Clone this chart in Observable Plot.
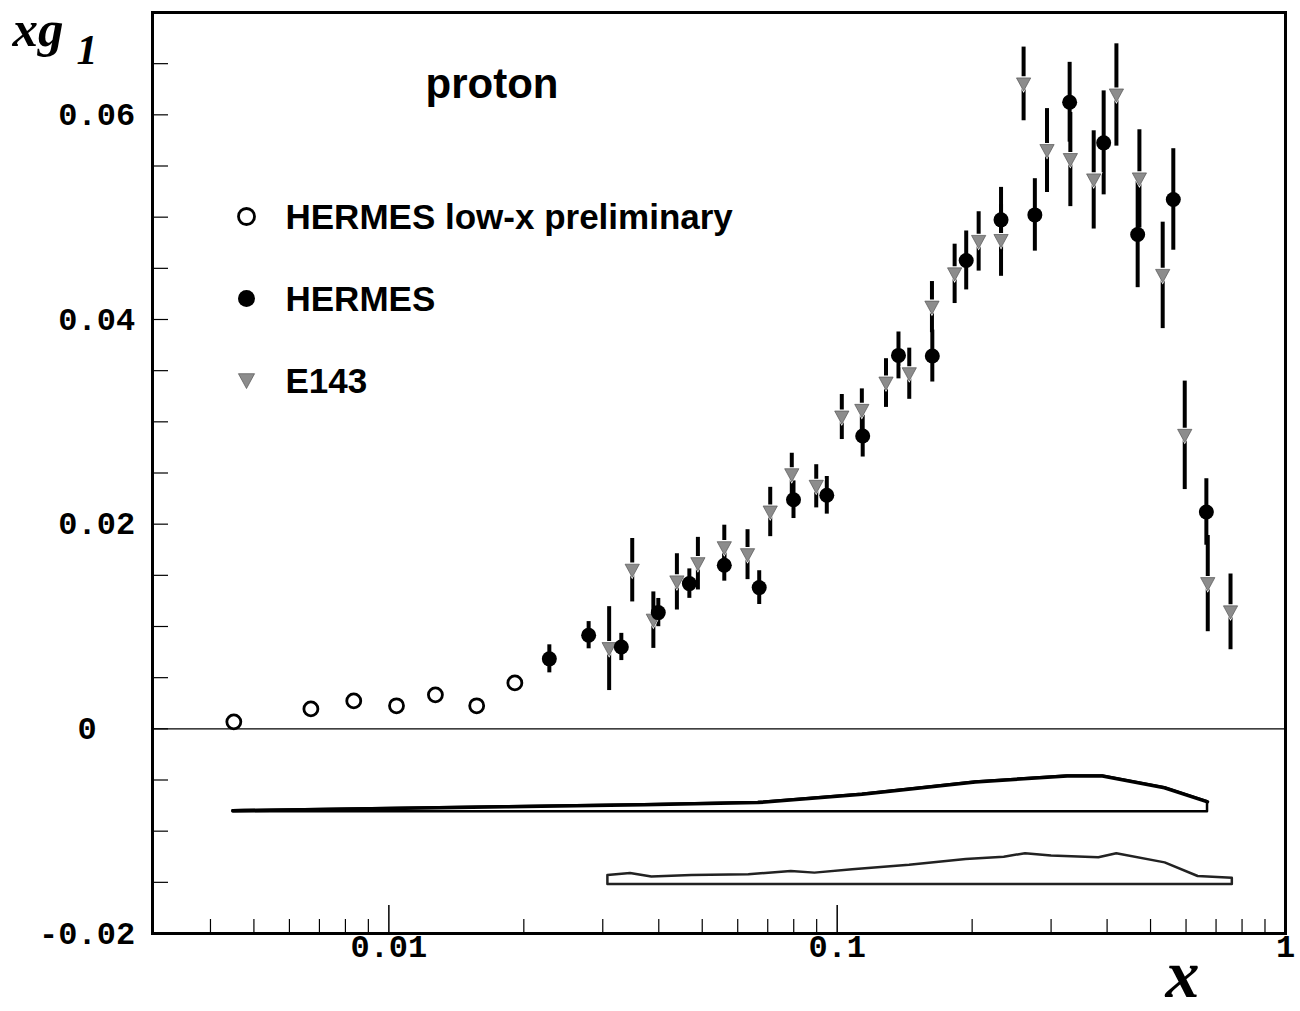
<!DOCTYPE html>
<html><head><meta charset="utf-8">
<script src="https://cdn.jsdelivr.net/npm/d3@7"></script>
<script src="https://cdn.jsdelivr.net/npm/@observablehq/plot@0.6"></script>
<style>body{margin:0;background:#fff}</style>
</head><body><div id="chart"></div>
<script>
// HERMES low-x preliminary (open circles)
const lowX   = [0.00451, 0.0067, 0.00835, 0.0104, 0.0127, 0.0157, 0.0191];
const lowXg1 = [0.00068, 0.00195, 0.00273, 0.00225, 0.00332, 0.00225, 0.00449];

// HERMES (filled circles)
const hermesX   = [0.0228, 0.0279, 0.0330, 0.0399, 0.0468, 0.0560, 0.0670, 0.0799, 0.0948, 0.114, 0.137, 0.163, 0.194, 0.232, 0.276, 0.330, 0.393, 0.468, 0.562, 0.666];
const hermesXg1 = [0.00684, 0.00915, 0.0080, 0.01136, 0.01419, 0.01599, 0.0138, 0.02239, 0.02282, 0.02861, 0.03649, 0.03643, 0.04577, 0.04974, 0.05022, 0.06123, 0.05726, 0.04831, 0.05173, 0.02119];
const hermesErr = [0.00137, 0.00133, 0.00133, 0.00138, 0.00144, 0.00156, 0.00165, 0.00184, 0.00184, 0.00205, 0.00229, 0.00254, 0.00288, 0.00317, 0.00354, 0.0039, 0.00508, 0.0052, 0.00496, 0.00325];

// E143 (grey down-triangles)
const e143X   = [0.0310, 0.0349, 0.0389, 0.0439, 0.0489, 0.0560, 0.0631, 0.0709, 0.0792, 0.0898, 0.1024, 0.1135, 0.1285, 0.1448, 0.1627, 0.1828, 0.2068, 0.232, 0.2605, 0.2938, 0.3312, 0.3734, 0.4196, 0.4722, 0.5322, 0.596, 0.6708, 0.754];
const e143Xg1 = [0.00784, 0.0155, 0.01062, 0.01436, 0.01614, 0.0177, 0.01702, 0.02119, 0.02483, 0.0237, 0.03047, 0.03112, 0.03379, 0.0347, 0.04121, 0.04446, 0.04763, 0.04772, 0.06302, 0.05651, 0.05563, 0.05364, 0.06194, 0.05374, 0.04431, 0.02868, 0.01419, 0.01143];
const e143Err = [0.0041, 0.0031, 0.00276, 0.00275, 0.00257, 0.0022, 0.00244, 0.00241, 0.0021, 0.00211, 0.0022, 0.0021, 0.00238, 0.0025, 0.0025, 0.0029, 0.0029, 0.0035, 0.0036, 0.0041, 0.0046, 0.0048, 0.005, 0.0048, 0.0052, 0.0053, 0.0047, 0.0037];

// systematic error bands
const hermesSysX   = [0.00449, 0.01825, 0.0371, 0.0666, 0.1137, 0.2033, 0.326, 0.3904, 0.537, 0.670];
const hermesSysTop = [-0.0080, -0.00762, -0.00742, -0.00721, -0.0064, -0.0052, -0.0046, -0.0046, -0.00576, -0.00713];
const hermesSysBase = -0.0081;
const e143SysX   = [0.0308, 0.0346, 0.0386, 0.0474, 0.0635, 0.079, 0.0892, 0.1083, 0.145, 0.194, 0.2358, 0.2631, 0.3007, 0.3834, 0.4204, 0.5389, 0.6385, 0.761];
const e143SysTop = [-0.01434, -0.01413, -0.01447, -0.01434, -0.01427, -0.01394, -0.0141, -0.01377, -0.01333, -0.01276, -0.01254, -0.0122, -0.01243, -0.0126, -0.0122, -0.0131, -0.01443, -0.0146];
const e143SysBase = -0.0152;

// axes
const xTickValues = [0.01, 0.1, 1];
const xTickLabels = ["0.01", "0.1", "1"];
const xMinorTicks = [0.004,0.005,0.006,0.007,0.008,0.009, 0.02,0.03,0.04,0.05,0.06,0.07,0.08,0.09, 0.2,0.3,0.4,0.5,0.6,0.7,0.8,0.9];
const yTickValues = [0.06, 0.04, 0.02, 0, -0.02];
const yTickLabels = ["0.06", "0.04", "0.02", "0", "-0.02"];
const yMinorTicks = [-0.02,-0.015,-0.01,-0.005,0,0.005,0.01,0.015,0.02,0.025,0.03,0.035,0.04,0.045,0.05,0.055,0.06,0.065];

const legendLabels = ["HERMES low-x preliminary", "HERMES", "E143"];

// build tables
const low = lowX.map((x, i) => ({x, y: lowXg1[i]}));
const hermes = hermesX.map((x, i) => ({x, y: hermesXg1[i], e: hermesErr[i]}));
const e143 = e143X.map((x, i) => ({x, y: e143Xg1[i], e: e143Err[i]}));
const hSys = hermesSysX.map((x, i) => ({x, hi: hermesSysTop[i], lo: hermesSysBase}));
const eSys = e143SysX.map((x, i) => ({x, hi: e143SysTop[i], lo: e143SysBase}));

const triDown = {
  draw(ctx, size) {
    const r = Math.sqrt(size / Math.PI);
    ctx.moveTo(-0.95 * r, -0.8 * r);
    ctx.lineTo(0.95 * r, -0.8 * r);
    ctx.lineTo(0, 0.95 * r);
    ctx.closePath();
  }
};

const mono = "'Liberation Mono', 'DejaVu Sans Mono', monospace";
const sans = "'Liberation Sans', Arial, sans-serif";
const serif = "'Liberation Serif', 'DejaVu Serif', serif";

// labels are aligned on the decimal point; a label without one starts there
const intPart = s => s.includes(".") ? s.split(".")[0] : "";
const fracPart = s => s.includes(".") ? "." + s.split(".")[1] : s;

const tickFont = {fontFamily: mono, fontWeight: "bold", fontSize: 32, fill: "black"};
const legendFont = {fontFamily: sans, fontWeight: "bold", fontSize: 35, fill: "black", frameAnchor: "top-left", textAnchor: "start", lineAnchor: "bottom", dx: 133};
const triStyle = {symbol: triDown, r: 7.5, fill: "#8c8c8c", stroke: "#555", strokeWidth: 0.7};

const plot = Plot.plot({
  width: 1300, height: 1011,
  marginLeft: 152, marginRight: 15, marginTop: 12, marginBottom: 78,
  x: {type: "log", domain: [0.00297, 1], axis: null},
  y: {domain: [-0.02, 0.07], axis: null},
  style: {background: "white", color: "black"},
  marks: [
    Plot.ruleY([0], {stroke: "black", strokeWidth: 1.2}),
    // systematic bands
    Plot.areaY(hSys, {x: "x", y1: "lo", y2: "hi", fill: "none", stroke: "black", strokeWidth: 2.5}),
    Plot.lineY(hSys, {x: "x", y: "hi", stroke: "black", strokeWidth: 3.5}),
    Plot.areaY(eSys, {x: "x", y1: "lo", y2: "hi", fill: "none", stroke: "#222", strokeWidth: 2.5}),
    // error bars
    Plot.ruleX(e143, {x: "x", y1: d => d.y - d.e, y2: d => d.y + d.e, stroke: "black", strokeWidth: 4}),
    Plot.ruleX(hermes, {x: "x", y1: d => d.y - d.e, y2: d => d.y + d.e, stroke: "black", strokeWidth: 4}),
    // markers
    Plot.dot(e143, {x: "x", y: "y", symbol: triDown, r: 9.5, fill: "white"}),
    Plot.dot(e143, {x: "x", y: "y", ...triStyle}),
    Plot.dot(hermes, {x: "x", y: "y", r: 7.5, fill: "black"}),
    Plot.dot(low, {x: "x", y: "y", r: 7, fill: "white", stroke: "black", strokeWidth: 2.8}),
    // ticks (inward)
    Plot.axisX(xTickValues, {tickSize: -28, text: null, label: null, strokeWidth: 1.5}),
    Plot.axisX(xMinorTicks, {tickSize: -14, text: null, label: null, strokeWidth: 1.2}),
    Plot.axisY(yMinorTicks, {tickSize: -16, text: null, label: null, strokeWidth: 1.2}),
    // tick labels
    Plot.text(xTickValues, {x: d => d, text: (d, i) => xTickLabels[i], frameAnchor: "bottom", lineAnchor: "top", dy: 1, ...tickFont}),
    Plot.text(yTickValues, {y: d => d, text: (d, i) => intPart(yTickLabels[i]), frameAnchor: "left", textAnchor: "end", dx: -75, ...tickFont}),
    Plot.text(yTickValues, {y: d => d, text: (d, i) => fracPart(yTickLabels[i]), frameAnchor: "left", textAnchor: "start", dx: -75, ...tickFont}),
    // axis titles
    Plot.text(["xg"], {frameAnchor: "top-left", dx: -140, dy: 33, textAnchor: "start", lineAnchor: "bottom",
      fontFamily: serif, fontStyle: "italic", fontWeight: "bold", fontSize: 51, fill: "black"}),
    Plot.text(["1"], {frameAnchor: "top-left", dx: -76, dy: 51, textAnchor: "start", lineAnchor: "bottom",
      fontFamily: serif, fontStyle: "italic", fontWeight: "bold", fontSize: 42, fill: "black"}),
    Plot.text(["x"], {frameAnchor: "bottom-right", dx: -120, dy: 63, textAnchor: "start", lineAnchor: "bottom",
      fontFamily: serif, fontStyle: "italic", fontWeight: "bold", fontSize: 68, fill: "black"}),
    // annotation
    Plot.text(["proton"], {frameAnchor: "top-left", dx: 273, dy: 85, textAnchor: "start", lineAnchor: "bottom",
      fontFamily: sans, fontWeight: "bold", fontSize: 42, fill: "black"}),
    // legend
    Plot.dot([0], {frameAnchor: "top-left", dx: 94, dy: 204, r: 8, fill: "white", stroke: "black", strokeWidth: 2.8}),
    Plot.dot([0], {frameAnchor: "top-left", dx: 94, dy: 286, r: 8.5, fill: "black"}),
    Plot.dot([0], {frameAnchor: "top-left", dx: 94, dy: 368, ...triStyle, r: 8.5}),
    Plot.text([legendLabels[0]], {...legendFont, dy: 216}),
    Plot.text([legendLabels[1]], {...legendFont, dy: 298}),
    Plot.text([legendLabels[2]], {...legendFont, dy: 380}),
    Plot.frame({stroke: "black", strokeWidth: 3})
  ]
});
document.getElementById("chart").appendChild(plot);
</script>
</body></html>
